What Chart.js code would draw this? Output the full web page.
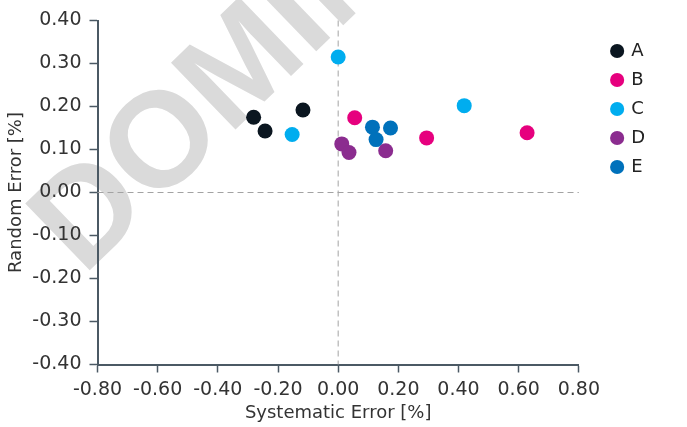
<!DOCTYPE html>
<html>
<head>
<meta charset="utf-8">
<script src="https://cdn.jsdelivr.net/npm/chart.js@4.4.1/dist/chart.umd.min.js"></script>
<style>
  html, body { margin: 0; padding: 0; background: #fff; }
  #wrap { width: 687px; height: 427px; }
</style>
</head>
<body>
<div id="wrap"><canvas id="errChart"></canvas></div>
<script>
// values
const seriesNames = ['A', 'B', 'C', 'D', 'E'];
const seriesColors = ['#0b1620', '#e6007e', '#00adef', '#8b2c8f', '#0071bb'];
const aX = [-0.281, -0.243, -0.117];
const aY = [0.175, 0.143, 0.192];
const bX = [0.055, 0.294, 0.628];
const bY = [0.174, 0.127, 0.139];
const cX = [0.000, -0.153, 0.419];
const cY = [0.315, 0.135, 0.202];
const dX = [0.012, 0.036, 0.158];
const dY = [0.113, 0.093, 0.097];
const eX = [0.114, 0.126, 0.174];
const eY = [0.152, 0.123, 0.150];
const xTicks = [-0.8, -0.6, -0.4, -0.2, 0, 0.2, 0.4, 0.6, 0.8];
const yTicks = [-0.4, -0.3, -0.2, -0.1, 0, 0.1, 0.2, 0.3, 0.4];

const axisColor = '#4b5964';
const textColor = '#333333';
const fontFamily = '"DejaVu Sans", sans-serif';

const allX = [aX, bX, cX, dX, eX];
const allY = [aY, bY, cY, dY, eY];

const datasets = seriesNames.map((name, i) => ({
  label: name,
  data: allX[i].map((x, j) => ({ x: x, y: allY[i][j] })),
  backgroundColor: seriesColors[i],
  borderColor: seriesColors[i],
  borderWidth: 0,
  pointRadius: 7.5,
  pointHoverRadius: 7.5
}));

// dashed lines through zero on both axes
const zeroLines = {
  id: 'zeroLines',
  beforeDatasetsDraw(chart) {
    const { ctx, chartArea, scales } = chart;
    const x0 = scales.x.getPixelForValue(0);
    const y0 = scales.y.getPixelForValue(0);
    ctx.save();
    ctx.strokeStyle = '#a3a3a3';
    ctx.lineWidth = 1;
    ctx.setLineDash([6, 4]);
    ctx.beginPath();
    ctx.moveTo(chartArea.left, y0);
    ctx.lineTo(chartArea.right, y0);
    ctx.moveTo(x0, chartArea.top);
    ctx.lineTo(x0, chartArea.bottom);
    ctx.stroke();
    ctx.restore();
  }
};

// grey diagonal watermark behind the plot
const watermark = {
  id: 'watermark',
  beforeDraw(chart) {
    const ctx = chart.ctx;
    ctx.save();
    ctx.font = 'bold 135px "Liberation Sans", sans-serif';
    ctx.fillStyle = '#dadada';
    ctx.translate(85, 208);
    ctx.rotate(-44 * Math.PI / 180);
    const dW = ctx.measureText('D').width;
    ctx.textBaseline = 'alphabetic';
    ctx.fillText('DOMINO', -dW / 2, 48);
    ctx.restore();
  }
};

new Chart(document.getElementById('errChart'), {
  type: 'scatter',
  data: { datasets },
  options: {
    responsive: true,
    maintainAspectRatio: false,
    animation: false,
    layout: { padding: { left: 0, top: 20.5, right: 32, bottom: 0 } },
    scales: {
      x: {
        type: 'linear',
        min: -0.8,
        max: 0.8,
        afterBuildTicks: s => { s.ticks = xTicks.map(v => ({ value: v })); },
        afterFit: s => { s.height = 62.5; },
        grid: { drawOnChartArea: false, tickLength: 8, tickColor: axisColor, tickWidth: 1.5, color: axisColor },
        border: { display: true, color: axisColor, width: 2 },
        ticks: {
          autoSkip: false,
          maxRotation: 0,
          padding: 6,
          color: textColor,
          font: { family: fontFamily, size: 19 },
          callback: v => Number(v).toFixed(2)
        },
        title: {
          display: true,
          text: 'Systematic Error [%]',
          color: textColor,
          font: { family: fontFamily, size: 18 },
          padding: { top: 0, bottom: 3 }
        }
      },
      y: {
        type: 'linear',
        min: -0.4,
        max: 0.4,
        afterBuildTicks: s => { s.ticks = yTicks.map(v => ({ value: v })); },
        afterFit: s => { s.width = 97.5; },
        grid: { drawOnChartArea: false, tickLength: 8, tickColor: axisColor, tickWidth: 1.5, color: axisColor },
        border: { display: true, color: axisColor, width: 2 },
        ticks: {
          autoSkip: false,
          padding: 8,
          color: textColor,
          font: { family: fontFamily, size: 19 },
          callback: v => Number(v).toFixed(2)
        },
        title: {
          display: true,
          text: 'Random Error [%]',
          color: textColor,
          font: { family: fontFamily, size: 18 },
          padding: { top: 6, bottom: 0 }
        }
      },
      // empty spacer between plot and legend
      gap: {
        type: 'linear',
        position: 'right',
        display: true,
        afterFit: s => { s.width = 22.3; },
        grid: { display: false },
        border: { display: false },
        ticks: { display: false }
      }
    },
    plugins: {
      legend: {
        position: 'right',
        align: 'start',
        title: { display: true, text: '', padding: 0, font: { size: 10.5, lineHeight: 1 } },
        labels: {
          usePointStyle: true,
          pointStyle: 'circle',
          boxWidth: 10,
          boxHeight: 10,
          padding: 11,
          color: '#222222',
          font: { family: fontFamily, size: 18, lineHeight: 1 }
        }
      },
      tooltip: { enabled: false }
    }
  },
  plugins: [watermark, zeroLines]
});
</script>
</body>
</html>
